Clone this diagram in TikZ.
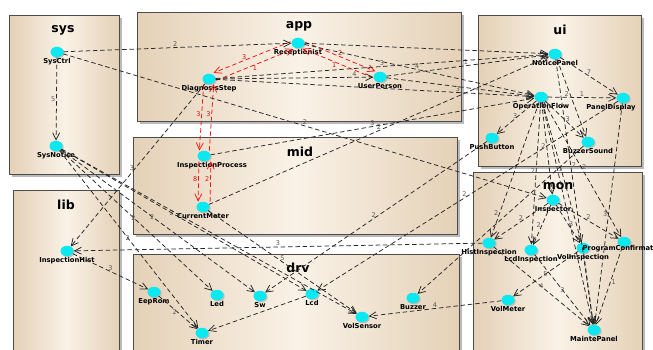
\documentclass[tikz,border=0pt]{standalone}
\usepackage{fontspec}
\setmainfont{DejaVu Sans}
\usetikzlibrary{arrows.meta,shapes.geometric,shadows}

\definecolor{tanD}{RGB}{228,209,183}
\definecolor{tanL}{RGB}{250,242,231}
\definecolor{nodeCyan}{RGB}{10,232,242}
\definecolor{depRed}{RGB}{245,15,15}

\tikzset{
  pkg/.style={draw=black!70, line width=0.9pt, left color=tanD, right color=tanD,
    middle color=tanL, anchor=north west, inner sep=0pt,
    drop shadow={shadow xshift=3pt, shadow yshift=-3pt, fill=black!45, opacity=0.6}},
  pkgtitle/.style={font=\fontsize{12.5}{12.5}\selectfont\bfseries, inner sep=0pt},
  cls/.style={ellipse, fill=nodeCyan, minimum width=13pt, minimum height=10.5pt,
    inner sep=0pt, label distance=5pt,
    drop shadow={shadow xshift=1.2pt, shadow yshift=-1.2pt, fill=black!35, opacity=0.6}},
  lbl/.style={font=\fontsize{6.8}{7}\selectfont\bfseries, inner sep=0.5pt},
  elab/.style={font=\fontsize{6.5}{6.5}\selectfont, text=black!65, inner sep=0.8pt},
  dep/.style={draw=black!85, line width=0.75pt, dash pattern=on 4.5pt off 2.8pt,
    -{Straight Barb[length=7pt,width=7pt,line width=0.75pt]}},
  rdep/.style={dep, draw=depRed},
  relab/.style={elab, text=depRed!85!black},
}

% class node: optional label options, name, position, text
\newcommand{\umlnode}[4][]{\node[cls, label={[lbl,#1]below:#4}] (#2) at (#3) {};}

\begin{document}
\begin{tikzpicture}[x=1pt, y=-1pt]
\useasboundingbox (0,0) rectangle (653,350);
\clip (0,0) rectangle (653,350);
\fill[white] (0,0) rectangle (653,350);

% packages
\node[pkg, minimum width=110pt, minimum height=159pt] (sysPkg) at (9,15) {};
\node[pkg, minimum width=324pt, minimum height=109pt] (appPkg) at (137,12) {};
\node[pkg, minimum width=163pt, minimum height=151pt] (uiPkg)  at (478,15) {};
\node[pkg, minimum width=324pt, minimum height=97pt]  (midPkg) at (133,137) {};
\node[pkg, minimum width=106pt, minimum height=175pt] (libPkg) at (13,190) {};
\node[pkg, minimum width=326pt, minimum height=110pt] (drvPkg) at (133,254) {};
\node[pkg, minimum width=169pt, minimum height=190pt] (monPkg) at (473,172) {};

\node[pkgtitle] (sysT) at (63,30)  {sys};
\node[pkgtitle] (appT) at (299,26) {app};
\node[pkgtitle] (uiT)  at (560,30) {ui};
\node[pkgtitle] (midT) at (300,152) {mid};
\node[pkgtitle] (libT) at (66,205) {lib};
\node[pkgtitle] (monT) at (558,186) {mon};
\node[pkgtitle] (drvT) at (298,268) {drv};

% classes
\umlnode{SysCtrl}{57,52}{SysCtrl}
\umlnode{SysNotice}{56,146}{SysNotice}
\umlnode{Receptionist}{298,43}{Receptionist}
\umlnode{DiagnosisStep}{209,79}{DiagnosisStep}
\umlnode{UserPerson}{380,77}{UserPerson}
\umlnode{NoticePanel}{555,54}{NoticePanel}
\umlnode{OperationFlow}{541,97}{OperationFlow}
\umlnode[xshift=-12pt]{PanelDisplay}{623,98}{PanelDisplay}
\umlnode{PushButton}{492,138}{PushButton}
\umlnode{BuzzerSound}{588,142}{BuzzerSound}
\umlnode[xshift=8pt]{InspectionProcess}{204,156}{InspectionProcess}
\umlnode{CurrentMeter}{203,207}{CurrentMeter}
\umlnode{InspectionHist}{67,251}{InspectionHist}
\umlnode{EepRom}{154,292}{EepRom}
\umlnode{Led}{217,295}{Led}
\umlnode{Sw}{260,296}{Sw}
\umlnode{Lcd}{312,294}{Lcd}
\umlnode{Timer}{202,333}{Timer}
\umlnode{VolSensor}{362,317}{VolSensor}
\umlnode{Buzzer}{413,298}{Buzzer}
\umlnode{Inspector}{553,200}{Inspector}
\umlnode{HistInspection}{489,243}{HistInspection}
\umlnode{LcdInspection}{531,250}{LcdInspection}
\umlnode{VolInspection}{583,248}{VolInspection}
\umlnode[yshift=3pt]{ProgramConfirmation}{624,242}{ProgramConfirmation}
\umlnode{VolMeter}{508,300}{VolMeter}
\umlnode{MaintePanel}{594,330}{MaintePanel}

% dependencies inside app and app -> mid (red)
\draw[rdep, transform canvas={xshift=-1.5pt, yshift=3.7pt}] (Receptionist) -- node[relab, above, pos=0.6] {3} (DiagnosisStep);
\draw[rdep, transform canvas={xshift=1.5pt, yshift=-3.7pt}] (DiagnosisStep) -- node[relab, below, pos=0.5] {1} (Receptionist);
\draw[rdep, transform canvas={xshift=1.3pt, yshift=3.2pt}] (Receptionist) -- node[relab, above, pos=0.5] {2} (UserPerson);
\draw[rdep, transform canvas={xshift=-1.3pt, yshift=-3.2pt}] (UserPerson) -- node[relab, below, pos=0.55] {1} (Receptionist);
\draw[rdep, transform canvas={xshift=-5pt}] (DiagnosisStep) -- node[relab, left, pos=0.45] {3} (InspectionProcess);
\draw[rdep, transform canvas={xshift=5pt}] (InspectionProcess) -- node[relab, left, pos=0.55] {3} (DiagnosisStep);
\draw[rdep, transform canvas={xshift=-5pt}] (InspectionProcess) -- node[relab, left, pos=0.45] {8} (CurrentMeter);
\draw[rdep, transform canvas={xshift=7pt}] (CurrentMeter) -- node[relab, left, pos=0.55] {2} (InspectionProcess);

% sys
\draw[dep] (SysCtrl) -- node[elab, left, pos=0.5] {5} (SysNotice);
\draw[dep] (SysCtrl) -- node[elab, above, pos=0.49] {2} (Receptionist);
\draw[dep] (SysCtrl) -- node[elab, above, pos=0.5] {2} (Inspector);
\draw[dep] (SysNotice) -- node[elab, pos=0.48] {2} (Led);
\draw[dep] (SysNotice) -- node[elab, pos=0.47] {2} (Sw);
\draw[dep] (SysNotice) -- node[elab, pos=0.45] {2} (Lcd);
\draw[dep] (SysNotice) -- node[elab, pos=0.49] {2} (Timer);
\draw[dep] (SysNotice) -- (VolSensor);

% app -> ui, lib
\draw[dep] (Receptionist) -- (NoticePanel);
\draw[dep] (Receptionist) -- node[elab, above, pos=0.49] {4} (OperationFlow);
\draw[dep] (UserPerson) -- node[elab, above, pos=0.49] {1} (NoticePanel);
\draw[dep] (UserPerson) -- (OperationFlow);
\draw[dep] (DiagnosisStep) -- node[elab, above, pos=0.5] {3} (NoticePanel);
\draw[dep] (DiagnosisStep) -- node[elab, above, pos=0.76] {3} (OperationFlow);
\draw[dep] (DiagnosisStep) -- node[elab, above, pos=0.88] {4} (UserPerson);
\draw[dep] (DiagnosisStep) -- node[elab, left, pos=0.52] {3} (InspectionHist);

% mid -> ui, drv
\draw[dep] (InspectionProcess) -- node[elab, above, pos=0.5] {3} (OperationFlow);
\draw[dep] (CurrentMeter) -- node[elab, above, pos=0.5] {2} (NoticePanel);
\draw[dep] (CurrentMeter) -- node[elab, above, pos=0.5] {5} (VolSensor);

% ui
\draw[dep] (NoticePanel) -- node[elab, above, pos=0.5] {7} (PanelDisplay);
\draw[dep] (NoticePanel) -- node[elab, left, pos=0.45] {2} (BuzzerSound);
\draw[dep] (NoticePanel) -- node[elab, right, pos=0.4] {2} (MaintePanel);
\draw[dep] (OperationFlow) -- node[elab, above, pos=0.5] {1} (PanelDisplay);
\draw[dep] (OperationFlow) -- node[elab, left, pos=0.45] {3} (PushButton);
\draw[dep] (OperationFlow) -- node[elab, right, pos=0.5] {3} (BuzzerSound);
\draw[dep] (OperationFlow) -- node[elab, left, pos=0.82] {2} (HistInspection);
\draw[dep] (OperationFlow) -- node[elab, left, pos=0.48] {2} (LcdInspection);
\draw[dep] (OperationFlow) -- node[elab, left, pos=0.47] {2} (Inspector);
\draw[dep] (OperationFlow) -- (VolInspection);
\draw[dep] (OperationFlow) -- node[elab, right, pos=0.3] {1} (MaintePanel);
\draw[dep] (OperationFlow) -- node[elab, right, pos=0.48] {2} (ProgramConfirmation);
\draw[dep] (PanelDisplay) -- node[elab, left, pos=0.5] {3} (MaintePanel);
\draw[dep] (PanelDisplay) -- node[elab, above, pos=0.51] {2} (Lcd);
\draw[dep] (PushButton) -- node[elab, above, pos=0.51] {2} (Sw);
\draw[dep] (BuzzerSound) -- (Buzzer);

% mon
\draw[dep] (Inspector) -- node[elab, above, pos=0.5] {2} (HistInspection);
\draw[dep] (Inspector) -- node[elab, left, pos=0.5] {2} (LcdInspection);
\draw[dep] (Inspector) -- node[elab, right, pos=0.5] {3} (VolInspection);
\draw[dep] (Inspector) -- node[elab, above, pos=0.5] {2} (ProgramConfirmation);
\draw[dep] (HistInspection) -- node[elab, pos=0.5] {4} (MaintePanel);
\draw[dep] (LcdInspection) -- node[elab, pos=0.5] {3} (MaintePanel);
\draw[dep] (VolInspection) -- (MaintePanel);
\draw[dep] (ProgramConfirmation) -- node[elab, right, pos=0.45] {1} (MaintePanel);
\draw[dep] (VolInspection) -- node[elab, pos=0.5] {5} (VolMeter);
\draw[dep] (VolMeter) -- node[elab, above, pos=0.5] {4} (VolSensor);
\draw[dep] (HistInspection) -- node[elab, above, pos=0.5] {3} (InspectionHist);

% lib, drv
\draw[dep] (InspectionHist) -- node[elab, above, pos=0.5] {3} (EepRom);
\draw[dep] (EepRom) -- node[elab, left, pos=0.5] {2} (Timer);
\draw[dep] (Lcd) -- (Timer);
\end{tikzpicture}
\end{document}
